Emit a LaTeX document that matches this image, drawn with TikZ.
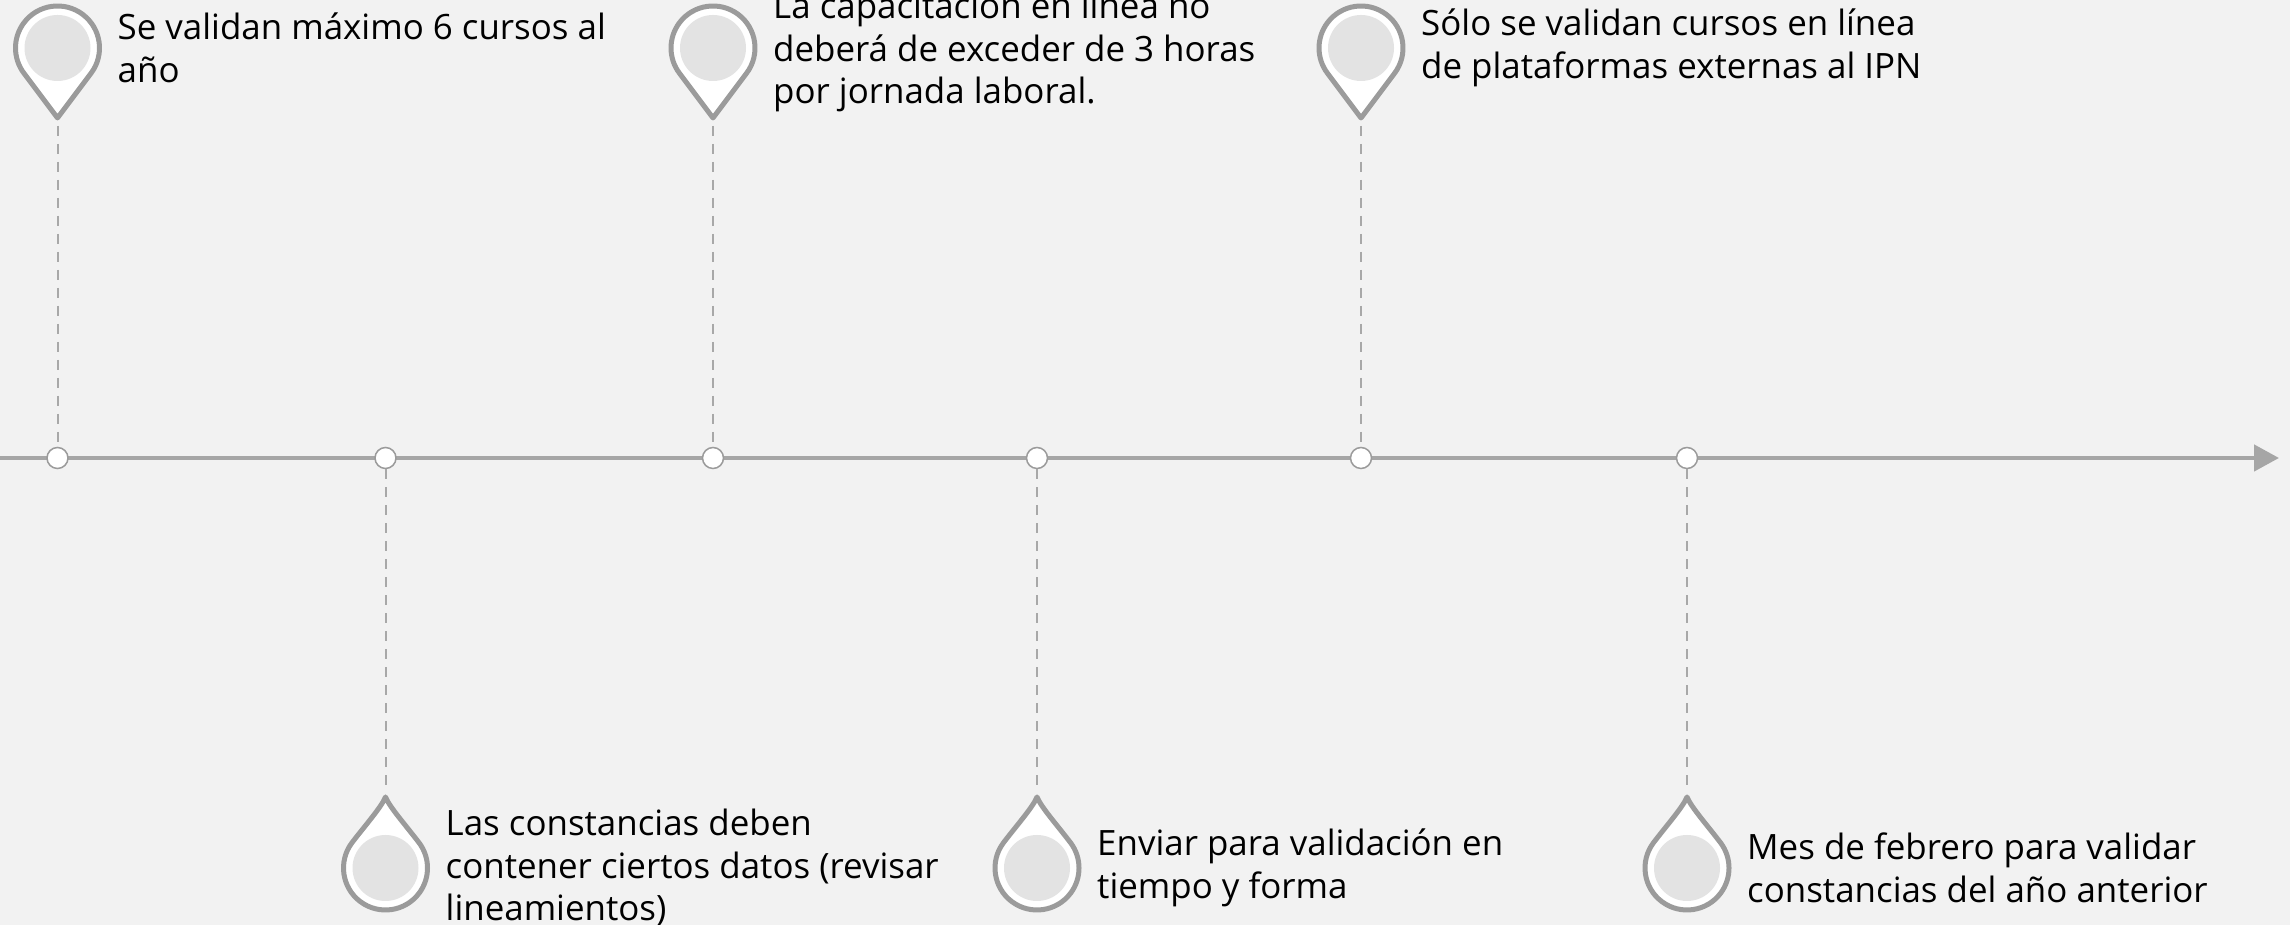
\documentclass[tikz,border=0pt]{standalone}
\usepackage{fontspec}
\setmainfont{Open Sans}
\usetikzlibrary{arrows.meta,calc}
\definecolor{bgc}{HTML}{F2F2F2}
\definecolor{pinc}{HTML}{9B9B9B}
\definecolor{innerc}{HTML}{E3E3E3}
\definecolor{axisc}{HTML}{A6A6A6}
\definecolor{dashc}{HTML}{A8A8A8}
\tikzset{
  axisline/.style={draw=axisc, line width=4.5pt, -{Triangle[length=25pt,width=26pt]}},
  tick/.style={circle, draw=pinc, fill=white, line width=1.5pt, minimum size=21pt, inner sep=0pt},
  guide/.style={draw=dashc, line width=2pt, dash pattern=on 10pt off 8pt},
  pinline/.style={draw=pinc, fill=white, line width=5pt, line join=round},
  pincore/.style={fill=innerc},
  label/.style={anchor=west, inner sep=0pt, align=left, text=black,
    font=\fontsize{34.9}{42.5}\selectfont}
}
\begin{document}
\begin{tikzpicture}[x=1pt,y=1pt]
\useasboundingbox (0,0) rectangle (2290,925);
\clip (0,0) rectangle (2290,925);
\fill[bgc] (0,0) rectangle (2290,925);
% axis
\coordinate (start) at (0,467);
\coordinate (end) at (2279,467);
\draw[axisline] (start) -- (end);
% tick nodes
\foreach \n/\x in {t1/57.5,t2/385.5,t3/713,t4/1037,t5/1361,t6/1687}{
  \node[tick] (\n) at (\x,467) {};
}
% top pins
\foreach \n/\x in {p1/57.5,p3/713,p5/1361}{
  \coordinate (\n) at (\x,807);
  \path[pinline] (\n) -- ($(\x,877)+(-36.87:42)$) arc[start angle=-36.87, end angle=216.87, radius=42] -- cycle;
  \fill[pincore] (\x,877) circle (33);
}
% bottom pins
\foreach \n/\x in {p2/385.5,p4/1037,p6/1687}{
  \coordinate (\n) at (\x,128);
  \path[pinline] (\n) .. controls (\x-4,118) and (\x-20,100) .. ($(\x,57)+(143.13:42)$) arc[start angle=143.13, end angle=396.87, radius=42] .. controls (\x+20,100) and (\x+4,118) .. cycle;
  \fill[pincore] (\x,57) circle (33);
}
% guides
\draw[guide] ([yshift=-8pt]p1) -- (t1.north);
\draw[guide] ([yshift=-8pt]p3) -- (t3.north);
\draw[guide] ([yshift=-8pt]p5) -- (t5.north);
\draw[guide] (t2.south) -- ([yshift=8pt]p2);
\draw[guide] (t4.south) -- ([yshift=8pt]p4);
\draw[guide] (t6.south) -- ([yshift=8pt]p6);
% labels
\node[label] (l1) at (117.5,877) {Se validan máximo 6 cursos al\\año};
\node[label] (l3) at (773,873) {La capacitación en línea no\\deberá de exceder de 3 horas\\por jornada laboral.};
\node[label] (l5) at (1421,877) {Sólo se validan cursos en línea\\de plataformas externas al IPN};
\node[label] (l2) at (445.5,57) {Las constancias deben\\contener ciertos datos (revisar\\lineamientos)};
\node[label] (l4) at (1097,57) {Enviar para validación en\\tiempo y forma};
\node[label] (l6) at (1747,57) {Mes de febrero para validar\\constancias del año anterior};
\end{tikzpicture}
\end{document}
